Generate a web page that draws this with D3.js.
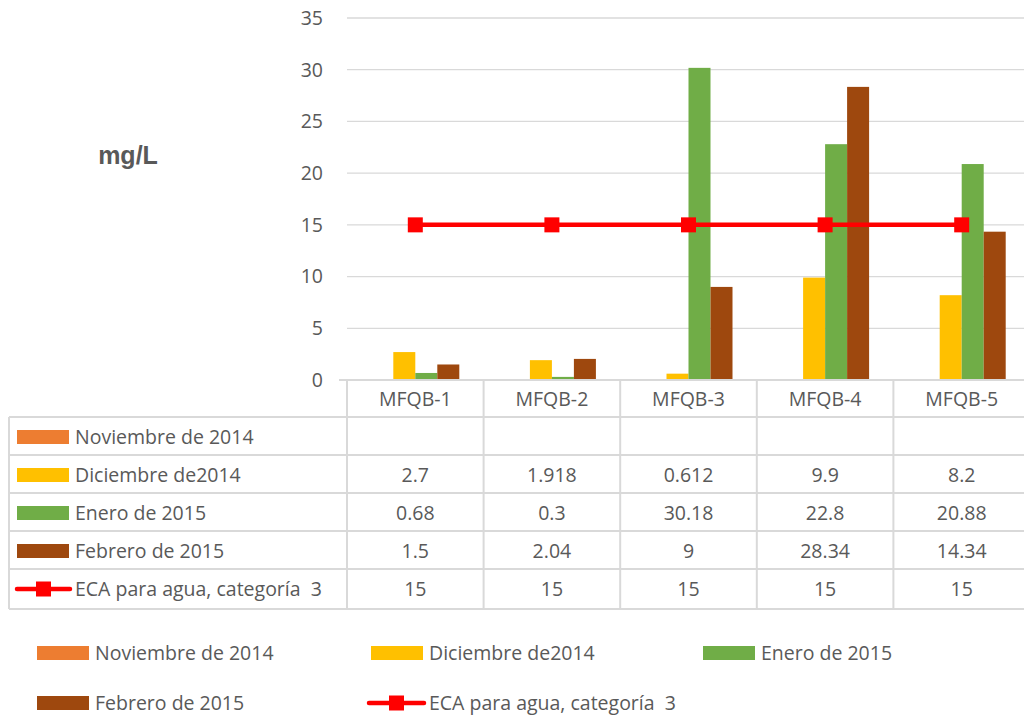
<!DOCTYPE html>
<html>
<head>
<meta charset="utf-8">
<script src="https://cdn.jsdelivr.net/npm/d3@7"></script>
<style>
  body { margin: 0; background: #fff; }
  svg text { font-family: "Open Sans", sans-serif; fill: #595959; white-space: pre; }
</style>
</head>
<body>
<svg id="chart" width="1024" height="718"></svg>
<script>
"use strict";

const categories = ["MFQB-1", "MFQB-2", "MFQB-3", "MFQB-4", "MFQB-5"];
const seriesNames = ["Noviembre de 2014", "Diciembre de2014", "Enero de 2015", "Febrero de 2015"];
const noviembre = [null, null, null, null, null];
const diciembre = [2.7, 1.918, 0.612, 9.9, 8.2];
const enero = [0.68, 0.3, 30.18, 22.8, 20.88];
const febrero = [1.5, 2.04, 9, 28.34, 14.34];
const ecaName = "ECA para agua, categoría  3";
const eca = [15, 15, 15, 15, 15];
const yTicks = [0, 5, 10, 15, 20, 25, 30, 35];
const colors = ["#ED7D31", "#FFC000", "#70AD47", "#9E480E"];
const ecaColor = "#FF0000";

const barSeries = [noviembre, diciembre, enero, febrero];

const svg = d3.select("#chart");
const plotLeft = 347, plotRight = 1030, plotTop = 18, plotBottom = 380;
const rowH = 38;
const gridColor = "#d9d9d9";
const fs = "19.5px";

const x = d3.scaleBand().domain(categories).range([plotLeft, plotRight]);
const y = d3.scaleLinear().domain([0, 35]).range([plotBottom, plotTop]);
const inner = d3.scaleBand().domain(seriesNames)
    .range([x.bandwidth() / 2 - 44, x.bandwidth() / 2 + 44]);

// gridlines
svg.append("g").selectAll("line")
    .data(yTicks.filter(d => d > 0))
    .enter().append("line")
    .attr("x1", plotLeft).attr("x2", plotRight)
    .attr("y1", d => y(d)).attr("y2", d => y(d))
    .attr("stroke", gridColor).attr("stroke-width", 1.3);

// y tick labels
svg.append("g").selectAll("text")
    .data(yTicks)
    .enter().append("text")
    .attr("x", 323).attr("y", d => y(d))
    .attr("dy", "0.35em")
    .attr("text-anchor", "end")
    .style("font-size", fs)
    .text(d => d);

svg.append("text")
    .attr("x", 128).attr("y", 155)
    .attr("dy", "0.35em")
    .attr("text-anchor", "middle")
    .style("font-size", "25px").style("font-weight", "bold")
    .style("font-family", "'Liberation Sans', Arial, sans-serif")
    .text("mg/L");

// bars
barSeries.forEach((vals, si) => {
    svg.append("g").selectAll("rect")
        .data(vals.map((v, i) => ({ v: v, c: categories[i] })).filter(d => d.v != null))
        .enter().append("rect")
        .attr("x", d => x(d.c) + inner(seriesNames[si]))
        .attr("width", inner.bandwidth())
        .attr("y", d => y(d.v))
        .attr("height", d => y(0) - y(d.v))
        .attr("fill", colors[si]);
});

// ECA line
const cx = c => x(c) + x.bandwidth() / 2;
svg.append("path")
    .datum(eca.map((v, i) => [cx(categories[i]), y(v)]))
    .attr("d", d3.line())
    .attr("fill", "none")
    .attr("stroke", ecaColor)
    .attr("stroke-width", 4.5)
    .attr("stroke-linecap", "round");
svg.append("g").selectAll("rect")
    .data(eca.map((v, i) => [cx(categories[i]), y(v)]))
    .enter().append("rect")
    .attr("x", d => d[0] - 7.5).attr("y", d => d[1] - 7.5)
    .attr("width", 15).attr("height", 15)
    .attr("fill", ecaColor);

// data table
const tableRows = [
    { name: seriesNames[0], vals: noviembre, color: colors[0] },
    { name: seriesNames[1], vals: diciembre, color: colors[1] },
    { name: seriesNames[2], vals: enero, color: colors[2] },
    { name: seriesNames[3], vals: febrero, color: colors[3] },
    { name: ecaName, vals: eca, color: ecaColor, line: true }
];
const tableLeft = 9;
const tbl = svg.append("g");
const hline = (x1, x2, yy) => tbl.append("line")
    .attr("x1", x1).attr("x2", x2).attr("y1", yy).attr("y2", yy)
    .attr("stroke", gridColor).attr("stroke-width", 2);
const vline = (xx, y1, y2) => tbl.append("line")
    .attr("x1", xx).attr("x2", xx).attr("y1", y1).attr("y2", y2)
    .attr("stroke", gridColor).attr("stroke-width", 2);

hline(plotLeft - 8, plotRight, plotBottom);
hline(tableLeft, plotRight, plotBottom + rowH - 1);
tableRows.forEach((r, i) => hline(tableLeft, plotRight, plotBottom + rowH * (i + 2) - 1 + (i === 4 ? 2 : 0)));
vline(tableLeft, plotBottom + rowH - 1, plotBottom + rowH * 6 + 1);
categories.forEach(c => vline(x(c), plotBottom, plotBottom + rowH * 6 + 1));
vline(plotRight, plotBottom, plotBottom + rowH * 6 + 1);

tbl.selectAll(".cat").data(categories).enter().append("text")
    .attr("x", d => cx(d)).attr("y", plotBottom + rowH / 2)
    .attr("dy", "0.35em").attr("text-anchor", "middle")
    .style("font-size", fs).text(d => d);

tableRows.forEach((r, i) => {
    const yc = plotBottom + rowH * (i + 1) + rowH / 2;
    if (r.line) {
        tbl.append("line").attr("x1", 17).attr("x2", 70).attr("y1", yc).attr("y2", yc)
            .attr("stroke", r.color).attr("stroke-width", 4.5).attr("stroke-linecap", "round");
        tbl.append("rect").attr("x", 36).attr("y", yc - 7.5).attr("width", 15).attr("height", 15)
            .attr("fill", r.color);
    } else {
        tbl.append("rect").attr("x", 17).attr("y", yc - 7).attr("width", 52).attr("height", 14)
            .attr("fill", r.color);
    }
    tbl.append("text").attr("x", 75).attr("y", yc).attr("dy", "0.35em")
        .style("font-size", fs).text(r.name);
    tbl.selectAll(null).data(r.vals.map((v, j) => ({ v: v, c: categories[j] })).filter(d => d.v != null))
        .enter().append("text")
        .attr("x", d => cx(d.c)).attr("y", yc).attr("dy", "0.35em")
        .attr("text-anchor", "middle")
        .style("font-size", fs).text(d => d.v);
});

// legend
const legendItems = [
    { name: seriesNames[0], color: colors[0], x: 37, y: 653 },
    { name: seriesNames[1], color: colors[1], x: 371, y: 653 },
    { name: seriesNames[2], color: colors[2], x: 703, y: 653 },
    { name: seriesNames[3], color: colors[3], x: 37, y: 703 },
    { name: ecaName, color: ecaColor, x: 371, y: 703, line: true }
];
const lg = svg.append("g");
legendItems.forEach(d => {
    if (d.line) {
        lg.append("line").attr("x1", d.x - 2).attr("x2", d.x + 53).attr("y1", d.y).attr("y2", d.y)
            .attr("stroke", d.color).attr("stroke-width", 4.5).attr("stroke-linecap", "round");
        lg.append("rect").attr("x", d.x + 18).attr("y", d.y - 7.5).attr("width", 15).attr("height", 15)
            .attr("fill", d.color);
    } else {
        lg.append("rect").attr("x", d.x).attr("y", d.y - 7).attr("width", 52).attr("height", 14)
            .attr("fill", d.color);
    }
    lg.append("text").attr("x", d.x + 58).attr("y", d.y).attr("dy", "0.35em")
        .style("font-size", fs).text(d.name);
});
</script>
</body>
</html>
